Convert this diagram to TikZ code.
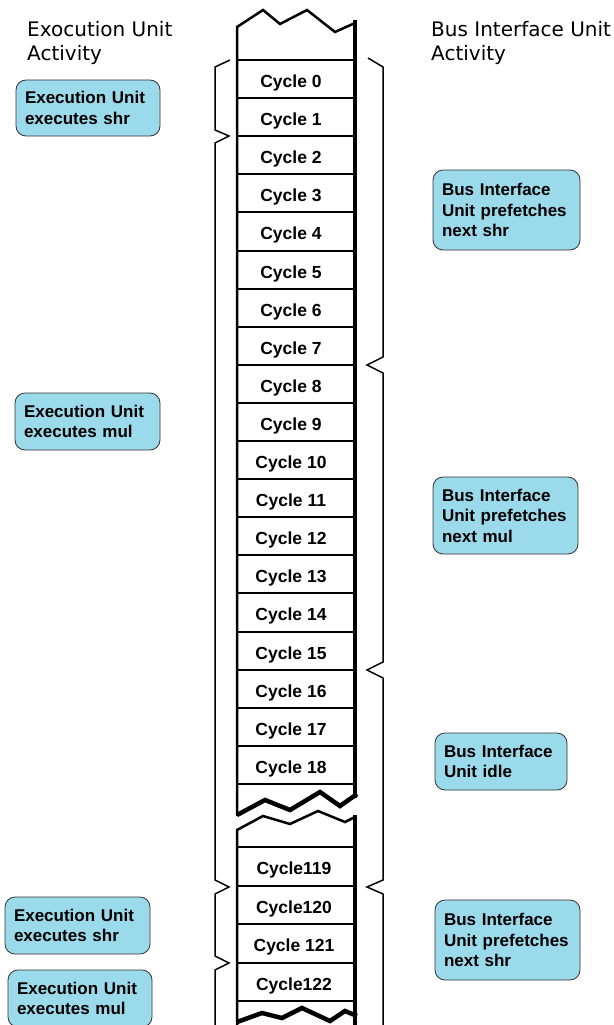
\documentclass[tikz,border=0pt]{standalone}
\usepackage{fontspec}
\setmainfont{Liberation Sans}
\newfontfamily\headfont{DejaVu Sans}
\begin{document}
\begin{tikzpicture}[x=1pt,y=-1pt,
  box/.style={draw=black!80,line width=0.8pt,fill={rgb,255:red,155;green,218;blue,234},rounded corners=10pt,
    align=left,inner xsep=9pt,inner ysep=0pt,font=\bfseries\fontsize{17}{20.5}\selectfont},
  head/.style={anchor=west,align=left,inner sep=0pt,font=\headfont\fontsize{20}{24}\selectfont},
  cyc/.style={font=\bfseries\fontsize{17.5}{20}\selectfont,inner sep=0pt},
  rowline/.style={line width=2pt},
  brace/.style={line width=1.5pt,line join=miter},
  thick edge/.style={line width=4.5pt},
  thin edge/.style={line width=2.5pt}]
\useasboundingbox (0,0) rectangle (613,1025);
\fill[white] (0,0) rectangle (613,1025);

% headings
\node[head] (hl) at (27,43) {Exocution Unit\\Activity};
\node[head] (hr) at (431,43) {Bus Interface Unit\\Activity};

% column top segment
\draw[thin edge,line join=miter] (237,816) -- (237,27) -- (263,10) -- (280,24) -- (307,10) -- (335,32) -- (355,23);
\draw[thick edge] (355,20) -- (355,798);
\foreach \k in {0,...,19} {
  \draw[rowline] (237,{60+38.1*\k}) -- (355,{60+38.1*\k});
}
\foreach \k in {0,...,18} {
  \node[cyc] (c\k) at (291,{60+38.1*\k+23}) {Cycle \k};
}
% break
\draw[thick edge,line join=miter] (237,815) -- (265,800) -- (290,810) -- (320,792) -- (340,806) -- (357,794);
\draw[thin edge,line join=miter] (237,1025) -- (237,830) -- (263,816) -- (290,824) -- (318,811) -- (345,822) -- (355,817);
\draw[thick edge] (355,815) -- (355,1025);
\foreach \y in {847,886,924,963,1001} {
  \draw[rowline] (237,\y) -- (355,\y);
}
\node[cyc] (c119) at (294,870) {Cycle119};
\node[cyc] (c120) at (294,909) {Cycle120};
\node[cyc] (c121) at (294,947) {Cycle 121};
\node[cyc] (c122) at (294,986) {Cycle122};
\draw[thick edge,line join=miter] (237,1022) -- (262,1013) -- (282,1018) -- (302,1008) -- (330,1021) -- (345,1011) -- (357,1016);

% braces
\draw[brace] (230,60) -- (215,67) -- (215,130) -- (229,136) -- (215,143) -- (215,880) -- (229,887) -- (215,894)
  -- (215,956) -- (229,963) -- (215,970) -- (215,1025);
\draw[brace] (368,58) -- (383,67) -- (383,357) -- (367,365) -- (383,373) -- (383,662) -- (367,670) -- (383,678)
  -- (383,880) -- (367,887) -- (383,894) -- (383,1025);

% boxes
\node[box,text width=126pt,minimum height=56pt] (eu1) at (88,108) {Execution Unit\\executes shr};
\node[box,text width=127pt,minimum height=57pt] (eu2) at (87.5,421.5) {Execution Unit\\executes mul};
\node[box,text width=129pt,minimum height=80pt] (bi1) at (506.5,210) {Bus Interface\\Unit prefetches\\next shr};
\node[box,text width=127pt,minimum height=77pt] (bi2) at (505.5,515.5) {Bus Interface\\Unit prefetches\\next mul};
\node[box,text width=114pt,minimum height=57pt] (bi3) at (501,761.5) {Bus Interface\\Unit idle};
\node[box,text width=127pt,minimum height=57pt] (eu3) at (77.5,925.5) {Execution Unit\\executes shr};
\node[box,text width=126pt,minimum height=57pt] (eu4) at (80,998.5) {Execution Unit\\executes mul};
\node[box,text width=127pt,minimum height=80pt] (bi4) at (507.5,940) {Bus Interface\\Unit prefetches\\next shr};
\end{tikzpicture}
\end{document}
